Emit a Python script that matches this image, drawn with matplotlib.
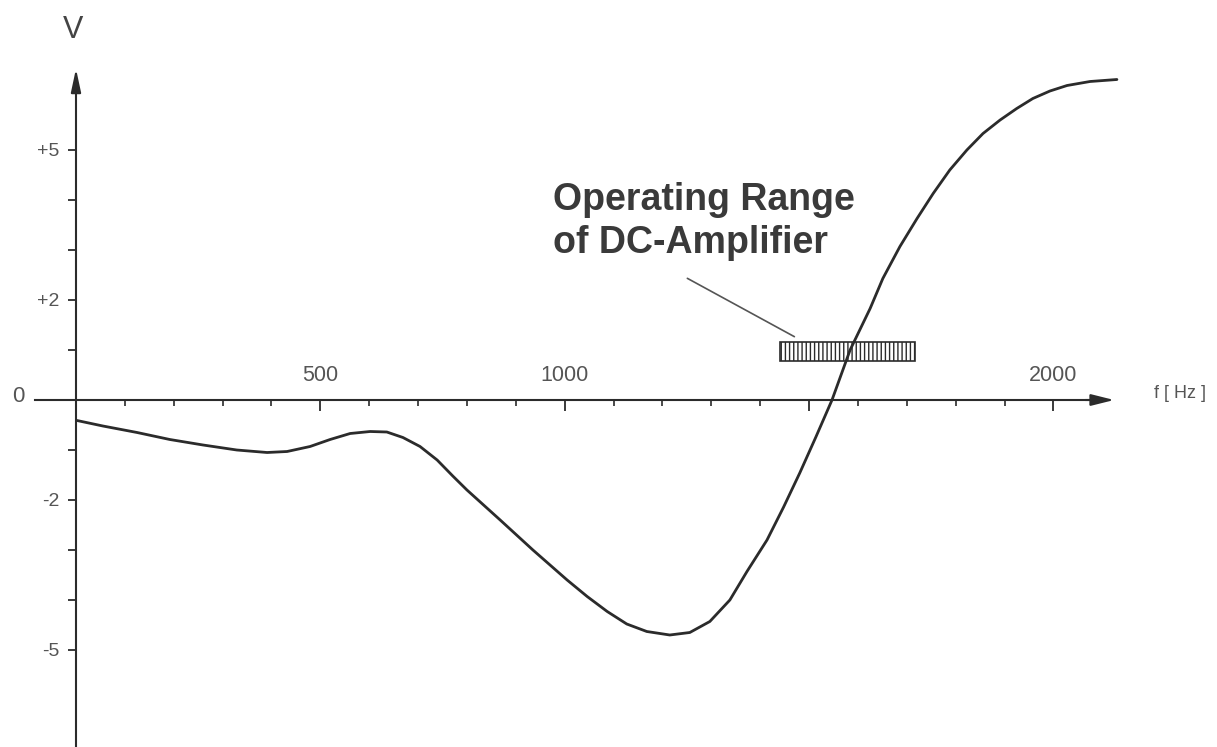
import matplotlib
matplotlib.use("Agg")
import matplotlib.pyplot as plt
from matplotlib.patches import Rectangle

# Curva (f en Hz, V en voltios)
freq = [2, 55, 125, 192, 260, 329, 391, 432, 479, 520, 561, 602, 636, 669,
        704, 739, 771, 800, 868, 935, 1005, 1046, 1087, 1127, 1168, 1215,
        1256, 1297, 1338, 1373, 1414, 1448, 1481, 1514, 1547, 1584, 1625,
        1651, 1686, 1721, 1754, 1788, 1823, 1856, 1891, 1925, 1958, 1993,
        2028, 2075, 2130]
volt = [-0.41, -0.52, -0.65, -0.79, -0.90, -1.00, -1.05, -1.03, -0.93, -0.79,
        -0.67, -0.63, -0.64, -0.75, -0.93, -1.20, -1.52, -1.80, -2.40, -3.00,
        -3.60, -3.93, -4.23, -4.48, -4.63, -4.70, -4.65, -4.43, -4.00, -3.43,
        -2.80, -2.14, -1.46, -0.74, 0.0, 1.0, 1.83, 2.43, 3.07, 3.63, 4.13,
        4.60, 5.00, 5.33, 5.60, 5.83, 6.03, 6.18, 6.29, 6.37, 6.41]

# Ejes
x_major = [500, 1000, 1500, 2000]
x_major_labels = ["500", "1000", "", "2000"]
x_minor = [f for f in range(100, 2000, 100) if f % 500 != 0]
y_ticks = [-5, -4, -3, -2, -1, 1, 2, 3, 4, 5]
y_labels = ["-5", "", "", "-2", "", "", "+2", "", "", "+5"]

# Rango de operación del amplificador DC
range_f = (1441, 1717)
range_v = (0.78, 1.16)

ink = "#2b2b2b"
grey = "#555555"
font = "Liberation Sans"

fig = plt.figure(figsize=(12.17, 7.47), dpi=100)
ax = fig.add_axes([0, 0, 1, 1])
ax.set_xlim(-155.5, 2334.8)
ax.set_ylim(-6.94, 8.0)
ax.patch.set_alpha(0)

for s in ["right", "bottom"]:
    ax.spines[s].set_visible(False)
ax.spines["left"].set_position(("data", 0))
ax.spines["top"].set_position(("data", 0))
ax.spines["left"].set_bounds(-6.94, 6.3)
ax.spines["top"].set_bounds(-84, 2080)
for s in ["left", "top"]:
    ax.spines[s].set_color(ink)
    ax.spines[s].set_linewidth(1.5)

# flechas de los ejes
ax.annotate("", xy=(2130, 0), xytext=(2060, 0),
            arrowprops=dict(arrowstyle="-|>,head_length=1.4,head_width=0.35",
                            color=ink, lw=1.5))
ax.annotate("", xy=(0, 6.68), xytext=(0, 6.1),
            arrowprops=dict(arrowstyle="-|>,head_length=1.4,head_width=0.3",
                            color=ink, lw=1.5))

ax.xaxis.set_ticks_position("top")
ax.set_xticks(x_major, x_major_labels)
ax.set_xticks(x_minor, minor=True)
ax.tick_params(axis="x", which="major", direction="in", length=8, width=1.3,
               color=ink, pad=10, labelsize=15.5, labelcolor=grey)
ax.tick_params(axis="x", which="minor", direction="in", length=4, width=1.2,
               color=ink)
ax.set_yticks(y_ticks, y_labels)
ax.tick_params(axis="y", direction="out", length=6, width=1.3, color=ink,
               pad=6, labelsize=14, labelcolor=grey)
for lab in ax.get_xticklabels() + ax.get_yticklabels():
    lab.set_family(font)

ax.text(-118, 0.08, "0", ha="center", va="center", fontsize=16,
        color=grey, family=font)
ax.text(-6, 7.4, "V", ha="center", va="center", fontsize=22,
        color="#444444", family=font)
ax.text(2259, 0.14, "f [ Hz ]", ha="center", va="center", fontsize=13,
        color=grey, family=font)

# caja rayada
rect = Rectangle((range_f[0], range_v[0]), range_f[1] - range_f[0],
                 range_v[1] - range_v[0], facecolor="white", edgecolor=ink,
                 hatch="||||", lw=1.2, zorder=2)
ax.add_patch(rect)

# curva
ax.plot(freq, volt, color=ink, lw=2.0, solid_capstyle="round",
        solid_joinstyle="round", zorder=3)

ax.text(976, 3.8, "Operating Range", ha="left", va="baseline", fontsize=27,
        fontweight="bold", color="#3a3a3a", family=font)
ax.text(976, 2.94, "of DC-Amplifier", ha="left", va="baseline", fontsize=27,
        fontweight="bold", color="#3a3a3a", family=font)
ax.annotate("", xy=(1475, 1.24), xytext=(1246, 2.46),
            arrowprops=dict(arrowstyle="-", color=grey, lw=1.2))

fig.savefig("out.png", dpi=100)
